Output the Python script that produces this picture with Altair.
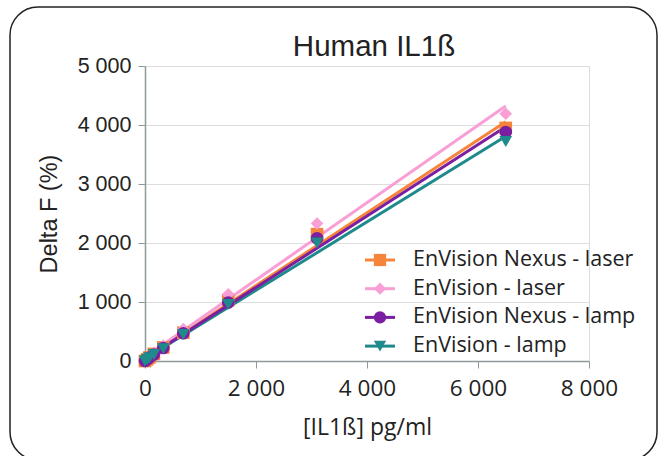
import altair as alt
import pandas as pd

# ---- data ----
conc = [0, 40, 80, 160, 330, 690, 1500, 3100, 6500]
nexus_laser = [0, 30, 60, 120, 230, 480, 1030, 2150, 3950]
envision_laser = [0, 35, 70, 140, 260, 540, 1130, 2330, 4190]
nexus_lamp = [0, 30, 60, 110, 220, 470, 990, 2080, 3880]
envision_lamp = [0, 25, 55, 110, 210, 450, 960, 2000, 3720]

series_names = ["EnVision Nexus - laser", "EnVision - laser",
                "EnVision Nexus - lamp", "EnVision - lamp"]
series_values = [nexus_laser, envision_laser, nexus_lamp, envision_lamp]
colors = ["#F6843A", "#F89FD6", "#7B1FA2", "#1F8A8C"]
shapes = ["square", "diamond", "circle", "triangle-down"]
draw_order = [0, 1, 3, 2]  # purple markers drawn last

x_ticks = [0, 2000, 4000, 6000, 8000]
y_ticks = [0, 1000, 2000, 3000, 4000, 5000]
chart_title = "Human IL1ß"

rows = []
for i in draw_order:
    for c, v in zip(conc, series_values[i]):
        rows.append({"series": series_names[i], "x": c, "y": v, "ord": i})
df = pd.DataFrame(rows)
one = pd.DataFrame({"k": [0]})

color_scale = alt.Scale(domain=series_names, range=colors)
shape_scale = alt.Scale(domain=series_names, range=shapes)
label_expr = "datum.value >= 1000 ? floor(datum.value/1000) + ' 000' : datum.label"

x_enc = alt.X("x:Q", scale=alt.Scale(domain=[0, 8000], nice=False),
              axis=alt.Axis(values=x_ticks, labelExpr=label_expr, title="[IL1ß] pg/ml",
                            grid=False, labelFont="Open Sans", labelFontSize=22.5,
                            titleFont="Open Sans", titleFontSize=23, titleFontWeight="normal",
                            labelColor="#222", titleColor="#222", labelFlush=False,
                            domainColor="#8E9A9A", tickColor="#8E9A9A",
                            tickSize=7, labelPadding=9, titlePadding=17, domainWidth=1.5))
y_enc = alt.Y("y:Q", scale=alt.Scale(domain=[0, 5000], nice=False),
              axis=alt.Axis(values=y_ticks, labelExpr=label_expr, title="Delta F (%)",
                            grid=True, gridColor="#DEDEDE", labelFont="Liberation Sans",
                            labelFontSize=21.5, titleFont="Liberation Sans", titleFontSize=23.5,
                            titleFontWeight="normal", labelColor="#222", titleColor="#222",
                            domainColor="#8E9A9A", tickColor="#8E9A9A", tickSize=7,
                            labelPadding=7, titlePadding=16, domainWidth=1.5, labelFlush=False))

lines = alt.Chart(df).transform_regression(
    "x", "y", groupby=["series"], extent=[0, 6500]
).mark_line(strokeWidth=3).encode(
    x=x_enc, y=y_enc,
    color=alt.Color("series:N", scale=color_scale, legend=None),
)

points = alt.Chart(df).mark_point(filled=True, size=160, opacity=1).encode(
    x=x_enc, y=y_enc,
    color=alt.Color("series:N", scale=color_scale, legend=None),
    shape=alt.Shape("series:N", scale=shape_scale, legend=None),
    order=alt.Order("ord:Q"),
)

# legend drawn by hand (line through marker, as in the reference)
legend_layers = []
for i, name in enumerate(series_names):
    ly = 194 + i * 28.7
    legend_layers.append(alt.Chart(one).mark_rule(strokeWidth=3, color=colors[i]).encode(
        x=alt.value(220), x2=alt.value(250), y=alt.value(ly)))
    legend_layers.append(alt.Chart(one).mark_point(filled=True, size=150, opacity=1,
                                                   color=colors[i], shape=shapes[i]).encode(
        x=alt.value(235), y=alt.value(ly)))
    legend_layers.append(alt.Chart(one).mark_text(align="left", baseline="middle",
                                                  font="Open Sans", fontSize=21.5,
                                                  color="#222", text=name).encode(
        x=alt.value(268), y=alt.value(ly)))

title_mark = alt.Chart(one).mark_text(align="center", baseline="alphabetic",
                                      font="Liberation Sans", fontSize=29.5,
                                      color="#222", text=chart_title).encode(
    x=alt.value(229), y=alt.value(-10))

box = alt.Chart(one).mark_rect(fillOpacity=0, stroke="#222", strokeWidth=1.5,
                               cornerRadius=28).encode(
    x=alt.value(-135), x2=alt.value(512), y=alt.value(-59), y2=alt.value(394),
)

chart = alt.layer(lines, points, *legend_layers, title_mark, box).properties(
    width=444, height=295,
    padding={"left": 145, "top": 66, "right": 77, "bottom": 95},
    autosize=alt.AutoSizeParams(type="none"),
).configure_view(strokeWidth=0).configure(background="white")

chart.save("out.html", embed_options={"renderer": "svg", "actions": False})
